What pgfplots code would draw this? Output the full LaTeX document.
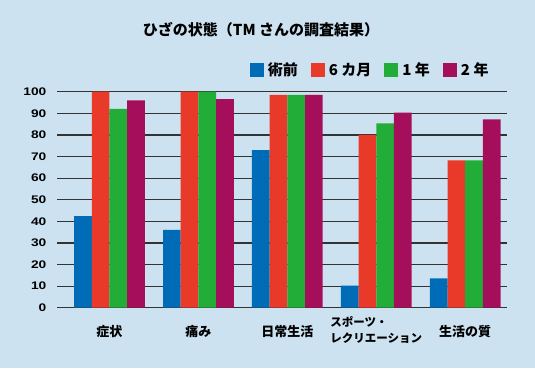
\documentclass[border=0pt]{standalone}
\usepackage{fontspec}
\setmainfont{Noto Sans CJK JP}
\newfontfamily\numfont{Liberation Sans}
\usepackage{pgfplots}
\pgfplotsset{compat=1.18}
\definecolor{bg}{RGB}{204,226,240}
\definecolor{cblue}{RGB}{0,108,183}
\definecolor{cred}{RGB}{232,57,41}
\definecolor{cgreen}{RGB}{34,172,56}
\definecolor{cmag}{RGB}{165,14,91}
\begin{document}
\begin{tikzpicture}
\fill[bg] (0pt,0pt) rectangle (535pt,368pt);
\node[font=\bfseries\fontsize{15}{17}\selectfont] at (261pt,338pt) {ひざの状態（TM さんの調査結果）};
\begin{axis}[
  at={(57pt,60.3pt)}, anchor=south west,
  scale only axis, width=450pt, height=216pt,
  ybar=0pt, bar width=17.7pt,
  xmin=-0.59, xmax=4.47, ymin=0, ymax=100,
  xtick={0,1,2,3,4},
  xticklabels={症状,痛み,日常生活,{{\fontsize{11.5}{15.5}\selectfont\begin{tabular}{@{}l@{}}スポーツ・\\レクリエーション\end{tabular}}},生活の質},
  xticklabel style={font=\bfseries\fontsize{13}{15.5}\selectfont, anchor=center, yshift=-19.5pt},
  ytick={0,10,...,100},
  yticklabel style={font=\numfont\bfseries\fontsize{11}{13}\selectfont, xscale=1.25, xshift=-5pt},
  /pgf/number format/assume math mode=true,
  axis line style={draw=none},
  major tick style={draw=none},
  ymajorgrids, grid style={draw=black!80, line width=1.2pt},
  legend columns=4,
  legend style={draw=none, fill=none, at={(axis description cs:0.696,1.1)}, anchor=center,
    font=\bfseries\fontsize{15}{17}\selectfont,
    /tikz/every even column/.append style={column sep=11pt},
    /tikz/every odd column/.append style={column sep=2pt}},
  legend image code/.code={\fill[#1] (0pt,-7pt) rectangle (14pt,7pt);},
]
\addplot[fill=cblue, draw=none] coordinates {(0,42.4) (1,36) (2,73) (3,10.2) (4,13.6)};
\addplot[fill=cred, draw=none] coordinates {(0,100) (1,100) (2,98.5) (3,80) (4,68.2)};
\addplot[fill=cgreen, draw=none] coordinates {(0,92) (1,100) (2,98.5) (3,85.3) (4,68.2)};
\addplot[fill=cmag, draw=none] coordinates {(0,96) (1,96.6) (2,98.5) (3,90.3) (4,87.2)};
\legend{術前,6 カ月,1 年,2 年}
\end{axis}
\end{tikzpicture}
\end{document}
